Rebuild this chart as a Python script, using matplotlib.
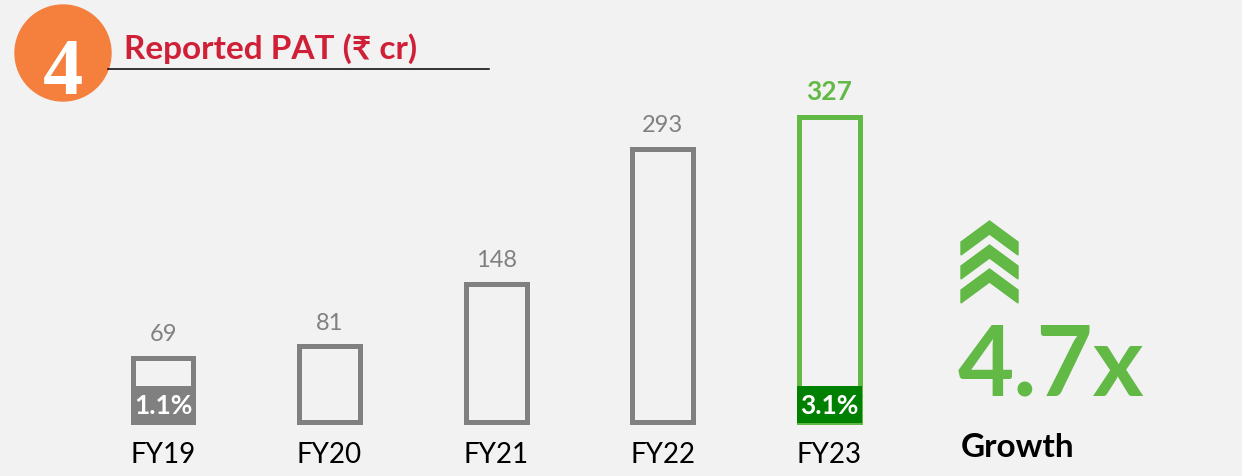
import matplotlib.pyplot as plt
from matplotlib.patches import Ellipse, Polygon
from matplotlib.lines import Line2D

years = ['FY19', 'FY20', 'FY21', 'FY22', 'FY23']
pat = [69, 81, 148, 293, 327]
margin_labels = {0: '1.1%', 4: '3.1%'}
title = 'Reported PAT (₹ cr)'
growth_value = '4.7x'
growth_label = 'Growth'

BG = '#f2f2f2'
GREY = '#808080'
GREEN = '#62b946'
DARK_GREEN = '#008000'
RED = '#cf2037'
ORANGE = '#f5803e'
FONT = ['Lato', 'DejaVu Sans']

W, H = 1242, 476
fig = plt.figure(figsize=(W / 100, H / 100), dpi=100, facecolor=BG)
ax = fig.add_axes([0, 0, 1, 1])
ax.set_facecolor(BG)
ax.set_xlim(-0.979, 6.48)
ax.set_ylim(-57.9, 452.3)
ax.axis('off')


def px(x, y):
    # pixel position (from top left) -> figure fraction
    return (x / W, 1 - y / H)


edge_cols = [GREY] * (len(years) - 1) + [GREEN]
xs = range(len(years))
ax.bar(xs, pat, width=0.366, facecolor='none', edgecolor=edge_cols,
       linewidth=3.6, zorder=2)

# margin boxes at the bottom of first and last bar
for i, lab in margin_labels.items():
    col = GREY if i == 0 else DARK_GREEN
    ax.bar(i, 40, bottom=-1, width=0.39, color=col, linewidth=0, zorder=3)
    ax.text(i, 17, lab, ha='center', va='center', color='white',
            fontsize=19, fontweight='bold', family=FONT, zorder=4)

for i, v in enumerate(pat):
    last = i == len(pat) - 1
    ax.annotate(str(v), (i, v), xytext=(0, 12), textcoords='offset points',
                ha='center', va='baseline', family=FONT,
                fontsize=19 if last else 17,
                fontweight='bold' if last else 'normal',
                color=GREEN if last else GREY)
    ax.text(i, -44, years[i], ha='center', va='baseline', fontsize=20,
            family=FONT, color='black')

# header: orange circle with number, title and rule
cx, cy = ax.transData.inverted().transform((63, H - 53))
ax.add_patch(Ellipse((cx, cy), 2 * 48 / 166.5, 2 * 48 / 0.933,
                     color=ORANGE, zorder=5))
fig.text(*px(63, 94), '4', ha='center', va='baseline', color='white',
         fontsize=58, fontweight='bold', family='Liberation Serif', zorder=6)
fig.text(*px(124, 59), title, ha='left', va='baseline', color=RED,
         fontsize=24, fontweight='bold', family=FONT)
fig.add_artist(Line2D([108 / W, 489 / W], [1 - 69 / H, 1 - 69 / H],
                      color='black', linewidth=1.1))

# chevrons
for k in range(3):
    d = 24 * k
    pts = [(989.5, 221), (1018, 242), (1018, 255), (989.5, 234),
           (961, 255), (961, 242)]
    pts = [px(x, y + d) for x, y in pts]
    fig.add_artist(Polygon(pts, closed=True, color=GREEN,
                           transform=fig.transFigure))

fig.text(*px(958, 395), growth_value, ha='left', va='baseline', color=GREEN,
         fontsize=70, fontweight='bold', family=FONT)
fig.text(*px(961, 457), growth_label, ha='left', va='baseline', color='black',
         fontsize=24, fontweight='bold', family=FONT)

fig.savefig('out.png', dpi=100, facecolor=BG)
